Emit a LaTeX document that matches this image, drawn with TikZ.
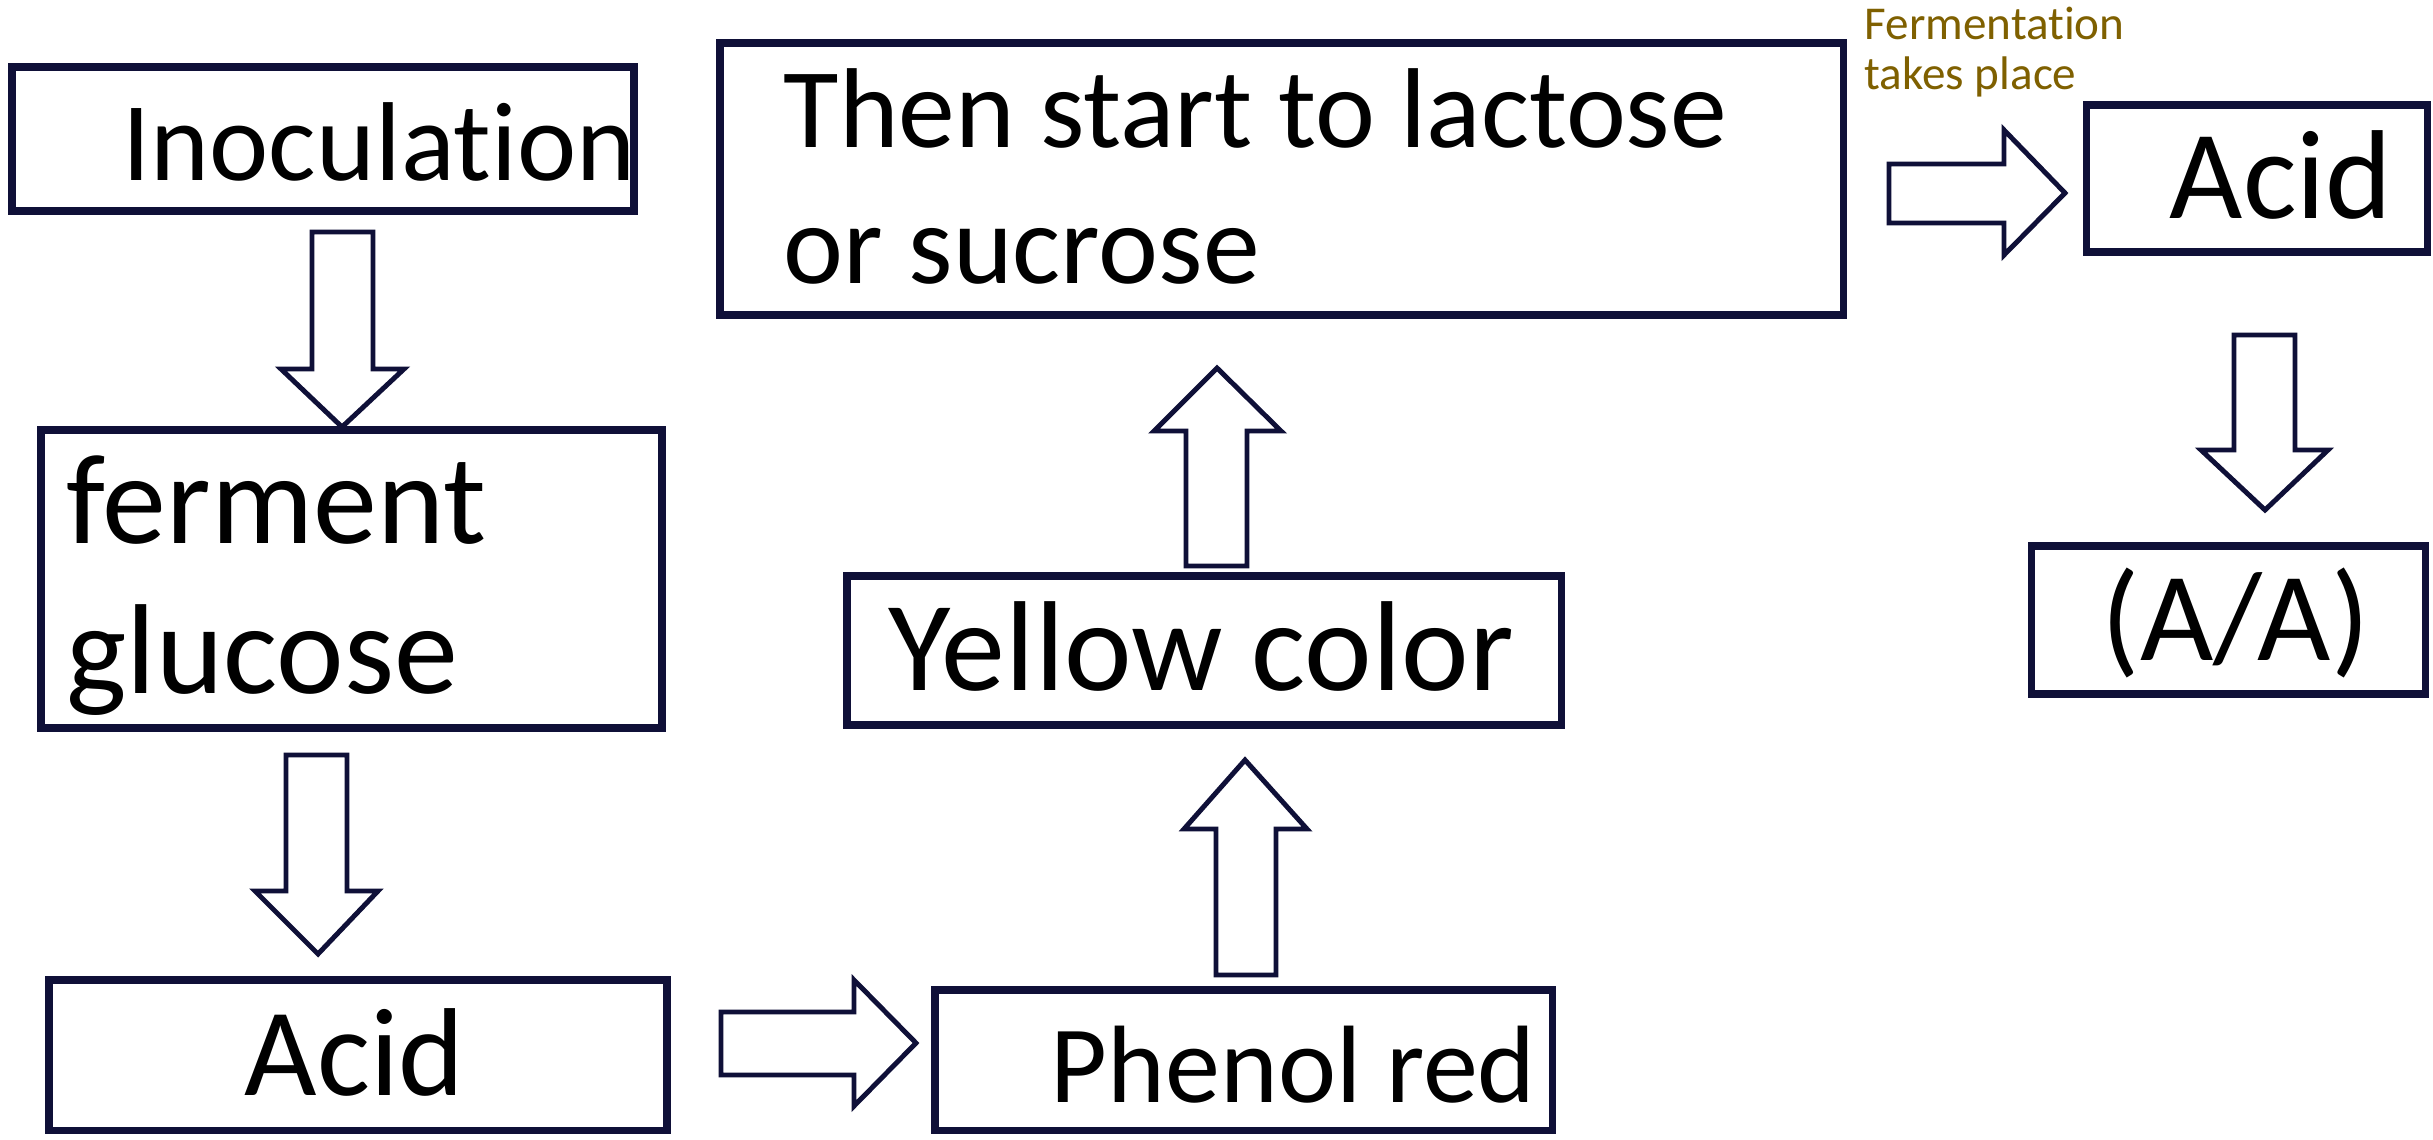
\documentclass[tikz,border=0pt]{standalone}
\usepackage{fontspec}
\setmainfont{Carlito}[Ligatures=NoCommon]
\usetikzlibrary{fit}
\definecolor{navy}{HTML}{0F1038}
\definecolor{olivetxt}{HTML}{7F6000}
\begin{document}
\begin{tikzpicture}[x=0.01cm,y=-0.01cm,
  box/.style={draw=navy, line width=2pt, inner sep=0pt, rectangle},
  lbl/.style={anchor=base west, inner sep=0pt, text=black},
  barrow/.style={draw=navy, line width=1.4pt, fill=white, line join=miter}]
\useasboundingbox[fill=white] (0,0) rectangle (2433,1139);

% boxes
\node[box, fit={(12,67) (634,211)}] (inoc) {};
\node[box, fit={(41,430) (662,728)}] (ferm) {};
\node[box, fit={(49,980) (667,1130)}] (acidA) {};
\node[box, fit={(935,990) (1552,1130)}] (phenol) {};
\node[box, fit={(847,576) (1561,725)}] (yellow) {};
\node[box, fit={(720,43) (1843,315)}] (then) {};
\node[box, fit={(2086,105) (2427,252)}] (acidB) {};
\node[box, fit={(2031,546) (2425,694)}] (aa) {};

% texts
\node[lbl, font=\fontsize{31.9}{38}\selectfont] (tinoc) at (122,180) {Inoculation};
\node[lbl, font=\fontsize{36.4}{42.7}\selectfont] (tferm1) at (66,543) {ferment};
\node[lbl, font=\fontsize{36.4}{42.7}\selectfont] (tferm2) at (66,693) {glucose};
\node[lbl, font=\fontsize{35.6}{42}\selectfont] (tacidA) at (244,1095) {Acid};
\node[lbl, font=\fontsize{31.3}{38}\selectfont] (tphenol) at (1050,1102) {Phenol red};
\node[lbl, font=\fontsize{36.4}{42}\selectfont] (tyellow) at (888,690) {Yellow color};
\node[lbl, font=\fontsize{32.3}{38.7}\selectfont] (tthen1) at (783,147) {Then start to lactose};
\node[lbl, font=\fontsize{32.3}{38.7}\selectfont] (tthen2) at (783,283) {or sucrose};
\node[lbl, font=\fontsize{36}{42}\selectfont] (tacidB) at (2169,218) {Acid};
\node[lbl, font=\fontsize{36}{42}\selectfont] (taa) at (2101,660) {(A/A)};
\node[lbl, text=olivetxt, font=\fontsize{13.4}{14.2}\selectfont] (tfer1) at (1864,39) {Fermentation};
\node[lbl, text=olivetxt, font=\fontsize{13.4}{14.2}\selectfont] (tfer2) at (1864,89) {takes place};

% block arrows
% inoc -> ferm
\draw[barrow] (312,232) -- (373,232) -- (373,369) -- (404,369) -- (342,427) -- (281,369) -- (312,369) -- cycle;
% ferm -> acidA
\draw[barrow] (286,755) -- (347,755) -- (347,891) -- (378,891) -- (318,954) -- (255,891) -- (286,891) -- cycle;
% acidA -> phenol
\draw[barrow] (721,1012) -- (854,1012) -- (854,980) -- (916,1043) -- (854,1106) -- (854,1075) -- (721,1075) -- cycle;
% phenol -> yellow
\draw[barrow] (1216,975) -- (1216,829) -- (1184,829) -- (1245,760) -- (1307,829) -- (1276,829) -- (1276,975) -- cycle;
% yellow -> then
\draw[barrow] (1186,566) -- (1186,431) -- (1154,431) -- (1217,368) -- (1281,431) -- (1247,431) -- (1247,566) -- cycle;
% then -> acidB
\draw[barrow] (1889,164) -- (2004,164) -- (2004,130) -- (2065,193) -- (2004,255) -- (2004,223) -- (1889,223) -- cycle;
% acidB -> aa
\draw[barrow] (2234,335) -- (2295,335) -- (2295,450) -- (2328,450) -- (2265,510) -- (2201,450) -- (2234,450) -- cycle;
\end{tikzpicture}
\end{document}
